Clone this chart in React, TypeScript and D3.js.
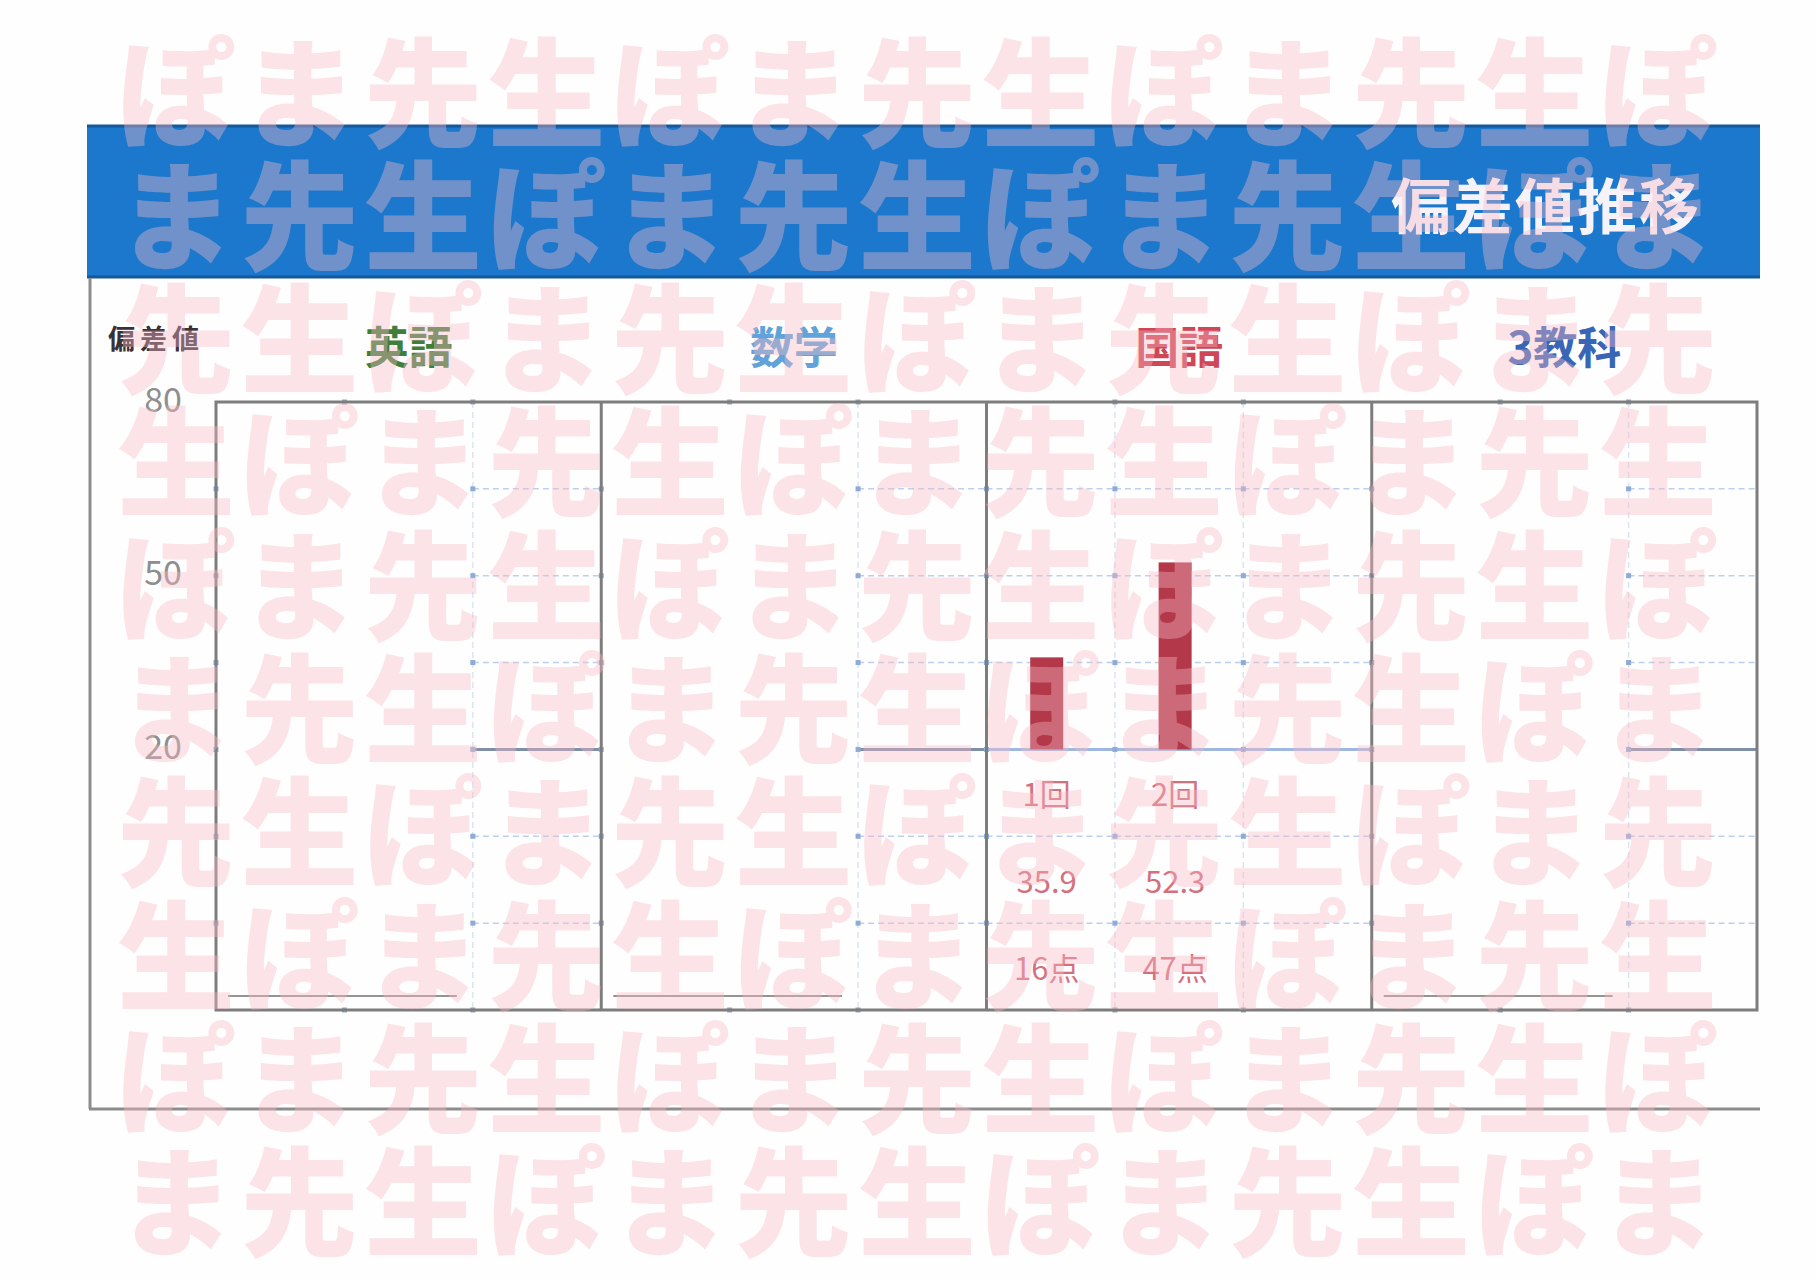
import React from "react";
import * as d3 from "d3";

// ---- data ----
const subjects = ["英語", "数学", "国語", "3教科"];
const subjectColors = ["#3f7f3c", "#5fa3da", "#cf4656", "#3865b5"];
const examRounds = ["1回", "2回", "3回"];
const englishDeviation: number[] = [];
const mathDeviation: number[] = [];
const japaneseDeviation = [35.9, 52.3];
const threeSubjectDeviation: number[] = [];
const englishScore: number[] = [];
const mathScore: number[] = [];
const japaneseScore = [16, 47];
const threeSubjectScore: number[] = [];
const yTickLabels = [80, 50, 20];
const gridValues = [65, 50, 35, 20, 5, -10];
const baselineValue = 20;
const watermarkChars = ["ぽ", "ま", "先", "生"];
const title = "偏差値推移";
const yAxisTitle = "偏差値";

const deviationSeries = [englishDeviation, mathDeviation, japaneseDeviation, threeSubjectDeviation];
const scoreSeries = [englishScore, mathScore, japaneseScore, threeSubjectScore];

const W = 1816;
const H = 1280;
const FONT = "'Noto Sans CJK JP', 'Noto Sans', sans-serif";

export default function App() {
  const y = d3.scaleLinear().domain([-25, 80]).range([1010, 402]);
  const x = d3.scaleBand<string>().domain(subjects).range([216, 1757]);
  const bw = x.bandwidth();
  const plotLeft = 216, plotRight = 1757, plotTop = y(80), plotBottom = y(-25);

  const subScale = (s: string) =>
    d3.scaleBand<string>().domain(examRounds).range([x(s)!, x(s)! + bw]);

  const wmRows = d3.range(10);
  const wmCols = d3.range(13);

  return (
    <svg width={W} height={H} style={{ position: "absolute", left: 0, top: 0, background: "#fff" }}
      xmlns="http://www.w3.org/2000/svg">
      <rect x={0} y={0} width={W} height={H} fill="#fefefe" />

      {/* header */}
      <rect x={87} y={125} width={1673} height={153} fill="#1b78cc" />
      <line x1={87} x2={1760} y1={126} y2={126} stroke="#15589c" strokeWidth={3} />
      <line x1={87} x2={1760} y1={277} y2={277} stroke="#15589c" strokeWidth={3} />
      <text x={1546} y={202} fill="#f6f2fa" fontFamily={FONT} fontWeight={700} fontSize={60}
        textAnchor="middle" dominantBaseline="central" letterSpacing={2}>{title}</text>

      {/* outer frame */}
      <line x1={90} x2={90} y1={278} y2={1109} stroke="#8c8c8c" strokeWidth={3} />
      <line x1={89} x2={1760} y1={1109} y2={1109} stroke="#8c8c8c" strokeWidth={3} />

      {/* y axis title & ticks */}
      <text x={156} y={337} fill="#3a3038" fontFamily={FONT} fontWeight={700} fontSize={27}
        textAnchor="middle" dominantBaseline="central" letterSpacing={5}>{yAxisTitle}</text>
      {yTickLabels.map((t) => (
        <text key={t} x={163} y={y(t) - 5} fill="#8e8e8e" fontFamily={FONT} fontSize={34}
          textAnchor="middle" dominantBaseline="central">{t}</text>
      ))}

      {/* subject labels */}
      {subjects.map((s, i) => (
        <text key={s} x={x(s)! + bw / 2} y={345} fill={subjectColors[i]} fontFamily={FONT}
          fontWeight={700} fontSize={44} textAnchor="middle" dominantBaseline="central">{s}</text>
      ))}

      {/* grid */}
      {subjects.map((s, si) => {
        const sub = subScale(s);
        const hasData = deviationSeries[si].length > 0;
        const visible = hasData ? examRounds : examRounds.slice(2);
        return (
          <g key={"g" + s}>
            {visible.map((r) => {
              const x0 = sub(r)!;
              const x1 = x0 + sub.bandwidth();
              const ri = examRounds.indexOf(r);
              return (
                <g key={r}>
                  {gridValues.map((v) => (
                    <line key={v} x1={x0} x2={x1} y1={y(v)} y2={y(v)}
                      stroke={v === baselineValue ? (hasData ? "#9fb8e0" : "#7f8fa8") : "#bcd0ec"}
                      strokeWidth={v === baselineValue ? 3 : 1.5}
                      strokeDasharray={v === baselineValue ? undefined : "6 4"} />
                  ))}
                  {ri > 0 && (
                    <line x1={x0} x2={x0} y1={plotTop} y2={plotBottom} stroke="#dae5f4"
                      strokeWidth={1.5} strokeDasharray="6 4" />
                  )}
                </g>
              );
            })}
            {/* intersection dots */}
            {examRounds.map((r, ri) =>
              (ri === 1 && !hasData) ? null :
              gridValues.map((v) => (
                <rect key={r + v} x={(ri === 0 ? x(s)! : sub(r)!) - 2.5} y={y(v) - 2.5} width={5} height={5}
                  fill="#8eaad6" />
              ))
            )}
            {examRounds.slice(1).map((r) => (
              <g key={"t" + r}>
                <rect x={sub(r)! - 2.5} y={plotTop - 2.5} width={5} height={5} fill="#9aa6b8" />
                <rect x={sub(r)! - 2.5} y={plotBottom - 2.5} width={5} height={5} fill="#9aa6b8" />
              </g>
            ))}
            {!hasData && (
              <line x1={sub(examRounds[0])! + 12} x2={sub(examRounds[1])! + sub.bandwidth() - 16}
                y1={y(-22.6)} y2={y(-22.6)} stroke="#707070" strokeWidth={1.5} />
            )}
          </g>
        );
      })}

      {/* bars and labels */}
      {subjects.map((s, si) => {
        const sub = subScale(s);
        const vals = deviationSeries[si];
        const scores = scoreSeries[si];
        return (
          <g key={"b" + s}>
            {vals.map((v, i) => {
              const cx = sub(examRounds[i])! + sub.bandwidth() / 2 - 4;
              const barW = 33;
              return (
                <g key={i}>
                  <rect x={cx - barW / 2} y={y(v)} width={barW} height={y(baselineValue) - y(v)}
                    fill="#b2384a" />
                  <text x={cx} y={y(12.5)} fill="#d4707e" fontFamily={FONT} fontSize={31}
                    textAnchor="middle" dominantBaseline="central">{examRounds[i]}</text>
                  <text x={cx} y={y(-2.5)} fill="#d4707e" fontFamily={FONT} fontSize={31}
                    textAnchor="middle" dominantBaseline="central">{v.toFixed(1)}</text>
                  <text x={cx} y={y(-17.5)} fill="#d4707e" fontFamily={FONT} fontSize={31}
                    textAnchor="middle" dominantBaseline="central">{scores[i] + "点"}</text>
                </g>
              );
            })}
          </g>
        );
      })}

      {/* plot border + panel separators */}
      <rect x={plotLeft} y={plotTop} width={plotRight - plotLeft} height={plotBottom - plotTop}
        fill="none" stroke="#7d7d7d" strokeWidth={3} />
      {subjects.slice(1).map((s) => (
        <line key={"sep" + s} x1={x(s)!} x2={x(s)!} y1={plotTop} y2={plotBottom}
          stroke="#7d7d7d" strokeWidth={3} />
      ))}

      {/* watermark overlay */}
      <g fill="rgb(247,186,196)" fillOpacity={0.39} fontFamily={FONT} fontWeight={900} fontSize={118}>
        {wmRows.map((i) =>
          wmCols.map((j) => (
            <text key={i + "-" + j} x={176 + 123.5 * j} y={86 + 123.3 * i}
              textAnchor="middle" dominantBaseline="central">
              {watermarkChars[(i + j) % 4]}
            </text>
          ))
        )}
      </g>
    </svg>
  );
}
